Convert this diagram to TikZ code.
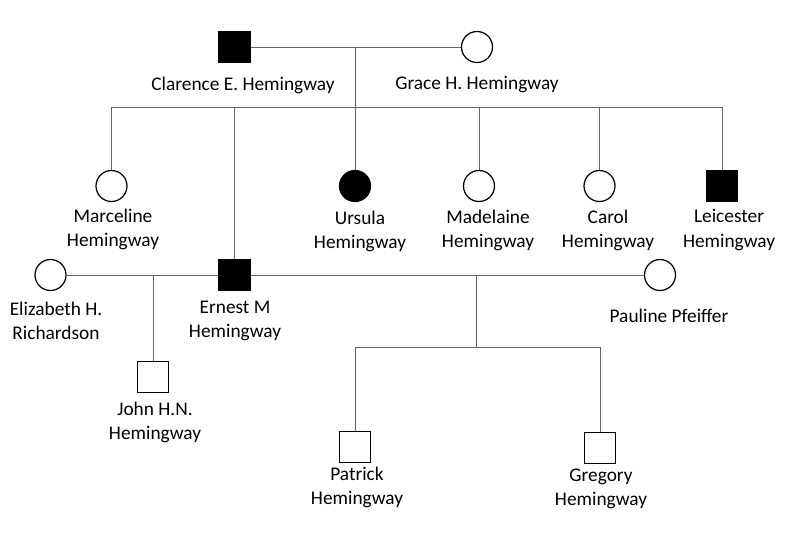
\documentclass[tikz,border=0pt]{standalone}
\usepackage{fontspec}
\setmainfont{Carlito}
\usepackage{tikz}

\begin{document}
\begin{tikzpicture}[x=0.02cm,y=-0.02cm,line width=0.7pt,
  male/.style={draw,rectangle,minimum size=0.62cm,inner sep=0pt},
  female/.style={draw,circle,minimum size=0.62cm,inner sep=0pt},
  affected/.style={fill=black},
  who/.style={align=center,inner sep=0pt,font=\fontsize{11}{13.7}\selectfont},
  link/.style={draw=black!60,line width=0.55pt}]

\useasboundingbox (0,0) rectangle (800,538);

% grandparents
\node[male,affected] (C) at (234.5,47) {};
\node[female] (G) at (477,47) {};

% their children
\node[female] (Ma) at (111.5,186) {};
\node[female,affected] (U) at (355,186) {};
\node[female] (Md) at (479,186) {};
\node[female] (Ca) at (599.5,186) {};
\node[male,affected] (L) at (722,186) {};

% Ernest and his wives
\node[female] (Eh) at (50.5,275) {};
\node[male,affected] (E) at (234.5,275) {};
\node[female] (P) at (660,275) {};

% grandchildren
\node[male] (J) at (153,377) {};
\node[male] (Pa) at (355,447) {};
\node[male] (Gr) at (600,448) {};

\coordinate (m1) at (355,47);
\coordinate (s0) at (355,107);
\coordinate (s1) at (111.5,107);
\coordinate (s2) at (722,107);
\coordinate (m3) at (476,275);
\coordinate (s5) at (476,347);
\coordinate (s3) at (355,347);
\coordinate (s4) at (600,347);

\path[link]
  (C) edge (G)
  (m1) edge (s0)
  (s1) edge (s2)
  (Ma |- s1) edge (Ma)
  (E |- s1) edge (E)
  (U |- s1) edge (U)
  (Md |- s1) edge (Md)
  (Ca |- s1) edge (Ca)
  (L |- s1) edge (L)
  (Eh) edge (E)
  (E) edge (P)
  (J |- E) edge (J)
  (m3) edge (s5)
  (s3) edge (s4)
  (Pa |- s3) edge (Pa)
  (Gr |- s3) edge (Gr)
  % (m2) edge (J)
  ;

\node[who] (Cl) at (243,85) {Clarence E. Hemingway};
\node[who] (Gl) at (477,85) {Grace H. Hemingway};
\node[who] (Mal) at (113,229) {Marceline\\Hemingway};
\node[who] (Ul) at (360,231) {Ursula\\Hemingway};
\node[who] (Mdl) at (488,230) {Madelaine\\Hemingway};
\node[who] (Cal) at (608,230) {Carol\\Hemingway};
\node[who] (Ll) at (729,230) {Leicester\\Hemingway};
\node[who] (Ehl) at (56,321) {Elizabeth H.\\Richardson};
\node[who] (El) at (235,321) {Ernest M\\Hemingway};
\node[who] (Pl) at (669,316) {Pauline Pfeiffer};
\node[who] (Jl) at (155,422) {John H.N.\\Hemingway};
\node[who] (Pal) at (357,487) {Patrick\\Hemingway};
\node[who] (Grl) at (601,489) {Gregory\\Hemingway};

\end{tikzpicture}
\end{document}
